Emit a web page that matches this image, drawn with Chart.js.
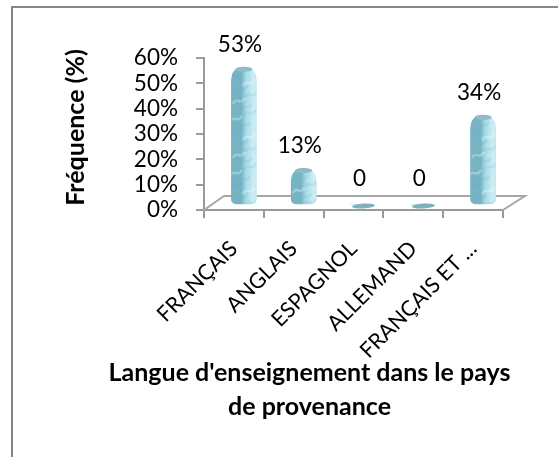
<!DOCTYPE html>
<html>
<head>
<meta charset="utf-8">
<style>
html, body { margin: 0; padding: 0; background: #fff; overflow: hidden; }
#wrap { position: relative; width: 558px; height: 457px; }
#frame { position: absolute; left: 11px; top: 6px; width: 547px; height: 451px; border-left: 2px solid #868686; border-top: 2px solid #868686; box-sizing: border-box; }
canvas { position: absolute; left: 0; top: 0; }
</style>
<script src="https://cdn.jsdelivr.net/npm/chart.js@4/dist/chart.umd.min.js"></script>
</head>
<body>
<div id="wrap">
  <div id="frame"></div>
  <canvas id="langChart" width="558" height="457"></canvas>
</div>
<script>
const categories = ['FRANÇAIS', 'ANGLAIS', 'ESPAGNOL', 'ALLEMAND', 'FRANÇAIS ET ...'];
const frequencies = [53, 13, 0, 0, 34];
const valueLabels = ['53%', '13%', '0', '0', '34%'];
const yTicks = [0, 10, 20, 30, 40, 50, 60];
const yAxisTitle = 'Fréquence (%)';
const xAxisTitle = ["Langue d'enseignement dans le pays", 'de provenance'];

const FONT = 'Lato, Carlito, "Open Sans", sans-serif';
const AXIS = '#9a9a9a';
const DX = 10, DY = 5;      // fake 3D shift of the bars

// floor of the 3D box and the axis titles
const backdrop = {
    id: 'backdrop',
    beforeDatasetsDraw(chart) {
        const { ctx, chartArea: a } = chart;
        ctx.save();
        ctx.strokeStyle = '#a6a6a6';
        ctx.lineWidth = 2;
        ctx.beginPath();
        ctx.moveTo(a.left, a.bottom);
        ctx.lineTo(a.left + 20, a.bottom - 14);
        ctx.lineTo(a.right + 22, a.bottom - 14);
        ctx.lineTo(a.right, a.bottom);
        ctx.stroke();
        ctx.restore();
    },
    afterDraw(chart) {
        const { ctx } = chart;
        ctx.save();
        ctx.fillStyle = '#000';
        ctx.font = 'bold 25px ' + FONT;
        ctx.textAlign = 'center';
        ctx.textBaseline = 'middle';
        ctx.fillText(xAxisTitle[0], 309.5, 373);
        ctx.fillText(xAxisTitle[1], 309.5, 407);
        ctx.translate(76, 127.5);
        ctx.rotate(-Math.PI / 2);
        ctx.fillText(yAxisTitle, 0, 0);
        ctx.restore();
    }
};

// shift the bars back into the box, add caps, mottling and the value labels
const cylinders = {
    id: 'cylinders',
    beforeDatasetDraw(chart) {
        chart.ctx.save();
        chart.ctx.translate(DX, -DY);
    },
    afterDatasetDraw(chart, args) {
        const { ctx } = chart;
        args.meta.data.forEach((bar, i) => {
            const hw = bar.width / 2;
            if (frequencies[i] === 0) {
                ctx.fillStyle = '#7fb0bc';
                ctx.beginPath();
                ctx.ellipse(bar.x, bar.y + 1, hw - 1, 2.5, -0.05, 0, Math.PI * 2);
                ctx.fill();
                return;
            }
            ctx.save();
            ctx.beginPath();
            ctx.roundRect(bar.x - hw, bar.y - 4, bar.width, bar.base - bar.y + 4, [11, 11, 5, 5]);
            ctx.clip();
            ctx.fillStyle = bar.options.backgroundColor;
            ctx.fill();
            // blotchy mottling, texture only
            const shifts = [-7, 5, -2, 7, -5, 2, 6, -8, 0];
            ctx.lineWidth = 2.5;
            for (let y = bar.y + 5, k = i * 2; y < bar.base; y += 6, k++) {
                const s = shifts[k % shifts.length];
                ctx.strokeStyle = k % 3 === 1 ? 'rgba(255,255,255,0.3)' : 'rgba(100,170,190,0.16)';
                ctx.beginPath();
                ctx.moveTo(bar.x + s - 6, y + 4);
                ctx.bezierCurveTo(bar.x + s - 2, y - 4, bar.x + s + 1, y + 7, bar.x + s + 6, y - 2);
                ctx.stroke();
            }
            ctx.restore();
            // darker cap on top
            ctx.fillStyle = '#8dbcc7';
            ctx.beginPath();
            ctx.ellipse(bar.x, bar.y - 1.5, hw - 4, 2.5, 0, 0, Math.PI * 2);
            ctx.fill();
        });
        ctx.restore();

        ctx.save();
        ctx.fillStyle = '#000';
        ctx.font = '22.5px ' + FONT;
        ctx.textAlign = 'center';
        ctx.textBaseline = 'middle';
        args.meta.data.forEach((bar, i) => {
            ctx.fillText(valueLabels[i], bar.x + DX - 4, bar.y - DY - 26);
        });
        ctx.restore();
    }
};

const ctx = document.getElementById('langChart').getContext('2d');
new Chart(ctx, {
    type: 'bar',
    data: {
        labels: categories,
        datasets: [{
            data: frequencies,
            barThickness: 25,
            backgroundColor(c) {
                const x = c.chart.scales.x ? c.chart.scales.x.getPixelForValue(c.dataIndex) : NaN;
                if (!isFinite(x)) return '#a5dbe6';
                const g = c.chart.ctx.createLinearGradient(x - 12.5 + DX, 0, x + 12.5 + DX, 0);
                g.addColorStop(0, '#76b4c4');
                g.addColorStop(0.18, '#a5dbe6');
                g.addColorStop(0.5, '#cdeef3');
                g.addColorStop(0.82, '#a5dbe6');
                g.addColorStop(1, '#6faebf');
                return g;
            },
            borderRadius: { topLeft: 10, topRight: 10, bottomLeft: 5, bottomRight: 5 },
            borderSkipped: false
        }]
    },
    options: {
        responsive: false,
        animation: false,
        layout: { padding: { left: 0, top: 58, right: 55, bottom: 0 } },
        plugins: { legend: { display: false }, tooltip: { enabled: false }, title: { display: false } },
        scales: {
            x: {
                grid: { display: true, drawOnChartArea: false, drawTicks: true, tickLength: 8, color: AXIS, lineWidth: 2, offset: true },
                border: { color: AXIS, width: 2 },
                ticks: { color: '#000', font: { size: 21.5, family: FONT }, maxRotation: 45, minRotation: 45, autoSkip: false, padding: 18 },
                afterFit(s) { s.height = 247; }
            },
            y: {
                min: 0,
                max: 60,
                afterBuildTicks(s) { s.ticks = yTicks.map(v => ({ value: v })); },
                grid: { display: true, drawOnChartArea: false, drawTicks: true, tickLength: 8, color: AXIS, lineWidth: 2 },
                border: { color: AXIS, width: 2 },
                ticks: { color: '#000', font: { size: 22.5, family: FONT }, padding: 18, autoSkip: false, callback: v => v + '%' },
                afterFit(s) { s.width = 204; }
            }
        }
    },
    plugins: [backdrop, cylinders]
});
</script>
</body>
</html>
